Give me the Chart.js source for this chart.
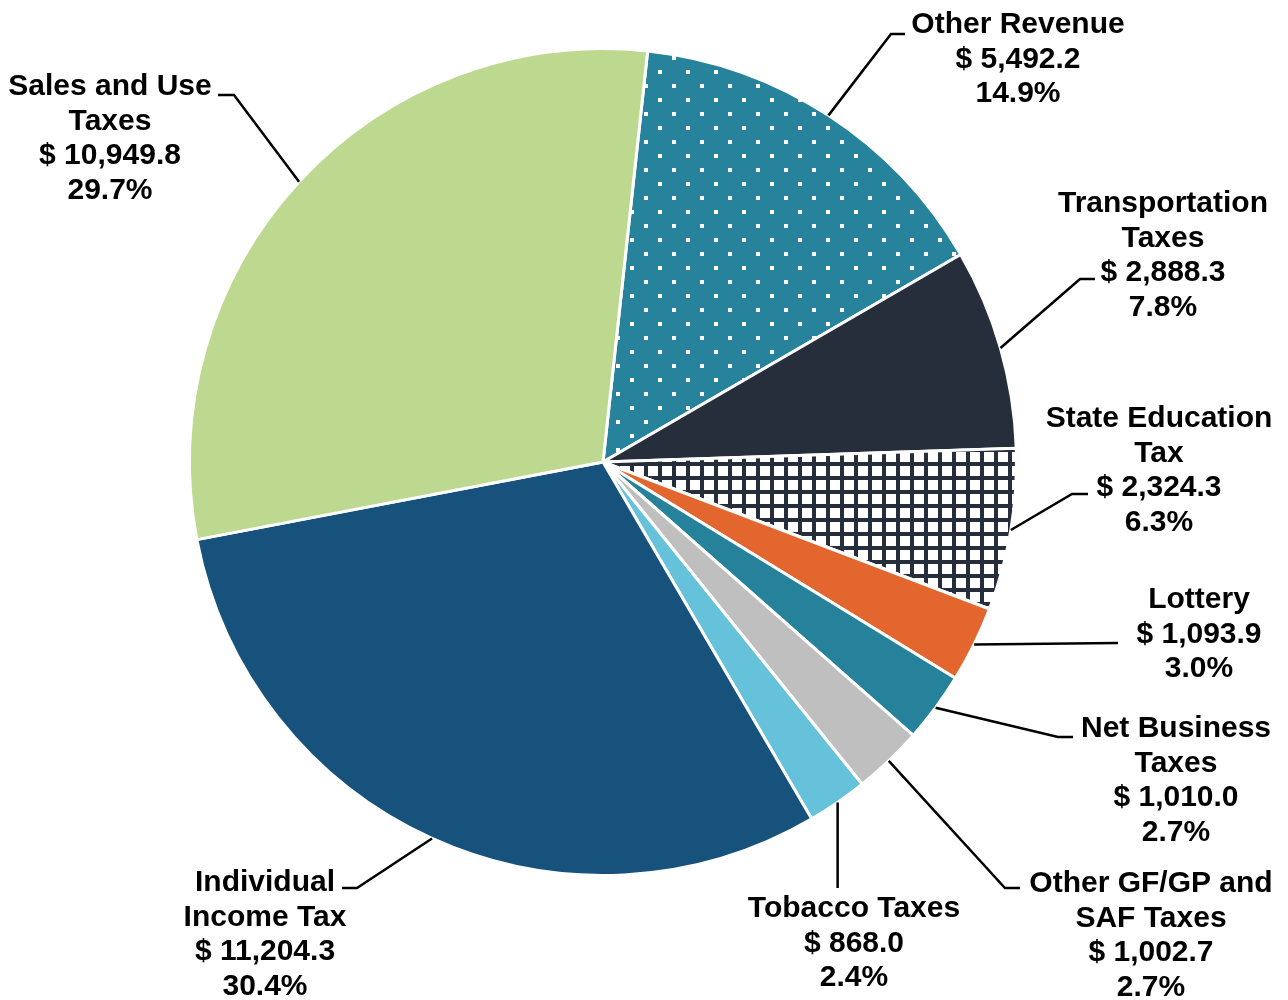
<!DOCTYPE html>
<html>
<head>
<meta charset="utf-8">
<script src="https://cdn.jsdelivr.net/npm/chart.js@4"></script>
<style>
  body { margin: 0; background: #fff; }
  canvas { display: block; }
</style>
</head>
<body>
<canvas id="myChart" width="1288" height="1000"></canvas>
<script>
// categories, clockwise from the top
var categories = [
  ["Other Revenue"],
  ["Transportation", "Taxes"],
  ["State Education", "Tax"],
  ["Lottery"],
  ["Net Business", "Taxes"],
  ["Other GF/GP and", "SAF Taxes"],
  ["Tobacco Taxes"],
  ["Individual", "Income Tax"],
  ["Sales and Use", "Taxes"]
];
var values = [5492.2, 2888.3, 2324.3, 1093.9, 1010.0, 1002.7, 868.0, 11204.3, 10949.8];

// label text position (center x, first baseline y) and leader line bend/end points
var labelLayout = [
  {x: 1018, y: 33,  elbow: [891, 34],   end: [905, 34]},
  {x: 1163, y: 212, elbow: [1080, 279], end: [1095, 279]},
  {x: 1159, y: 427, elbow: [1072, 494], end: [1088, 494]},
  {x: 1199, y: 608, elbow: [1118, 643], end: [1118, 643]},
  {x: 1176, y: 737, elbow: [1058, 737], end: [1073, 737]},
  {x: 1151, y: 892, elbow: [1005, 888], end: [1020, 888]},
  {x: 854,  y: 917, elbow: null,        end: null, drop: 888},
  {x: 265,  y: 891, elbow: [357, 888],  end: [342, 888]},
  {x: 110,  y: 95,  elbow: [234, 95],   end: [218, 95]}
];

function dotPattern(bg, dot) {
  var c = document.createElement("canvas");
  c.width = 28; c.height = 28;
  var x = c.getContext("2d");
  x.fillStyle = bg;
  x.fillRect(0, 0, 28, 28);
  x.fillStyle = dot;
  x.fillRect(0, 0, 4, 4);
  x.fillRect(14, 14, 4, 4);
  return x.createPattern(c, "repeat");
}

function gridPattern(bg, line) {
  var c = document.createElement("canvas");
  c.width = 14; c.height = 14;
  var x = c.getContext("2d");
  x.fillStyle = bg;
  x.fillRect(0, 0, 14, 14);
  x.fillStyle = line;
  x.fillRect(0, 0, 4, 14);
  x.fillRect(0, 0, 14, 4);
  return x.createPattern(c, "repeat");
}

var sliceColors = [
  dotPattern("#27839B", "#ffffff"),
  "#262D3B",
  gridPattern("#ffffff", "#262D3B"),
  "#E2662D",
  "#26829B",
  "#BFBFBF",
  "#66C1DA",
  "#17527C",
  "#BDD98F"
];

var total = values.reduce(function(a, b) { return a + b; }, 0);

var labelPlugin = {
  id: "sliceLabels",
  afterDraw: function(chart) {
    var ctx = chart.ctx;
    var meta = chart.getDatasetMeta(0);
    ctx.save();
    ctx.strokeStyle = "#000";
    ctx.lineWidth = 2.5;
    ctx.fillStyle = "#000";
    ctx.font = "bold 30px 'Liberation Sans', Arial, sans-serif";
    ctx.textAlign = "center";
    ctx.textBaseline = "alphabetic";
    meta.data.forEach(function(arc, i) {
      var p = arc.getProps(["x", "y", "startAngle", "endAngle", "outerRadius"], true);
      var mid = (p.startAngle + p.endAngle) / 2;
      var sx = p.x + Math.cos(mid) * p.outerRadius;
      var sy = p.y + Math.sin(mid) * p.outerRadius;
      var L = labelLayout[i];
      ctx.beginPath();
      ctx.moveTo(sx, sy);
      if (L.drop) {
        // straight down from the slice
        ctx.lineTo(sx, L.drop);
      } else {
        ctx.lineTo(L.elbow[0], L.elbow[1]);
        ctx.lineTo(L.end[0], L.end[1]);
      }
      ctx.stroke();
      var v = values[i];
      var lines = categories[i].concat([
        "$ " + v.toLocaleString("en-US", {minimumFractionDigits: 1, maximumFractionDigits: 1}),
        (v / total * 100).toFixed(1) + "%"
      ]);
      lines.forEach(function(t, k) {
        ctx.fillText(t, L.x, L.y + k * 34.5);
      });
    });
    ctx.restore();
  }
};

new Chart("myChart", {
  type: "pie",
  data: {
    labels: categories,
    datasets: [{
      data: values,
      backgroundColor: sliceColors,
      borderColor: "#ffffff",
      borderWidth: 3
    }]
  },
  options: {
    responsive: false,
    animation: false,
    rotation: 6.2,
    layout: {padding: {left: 188, right: 270, top: 47, bottom: 123}},
    plugins: {
      legend: {display: false},
      tooltip: {enabled: false}
    }
  },
  plugins: [labelPlugin]
});
</script>
</body>
</html>
